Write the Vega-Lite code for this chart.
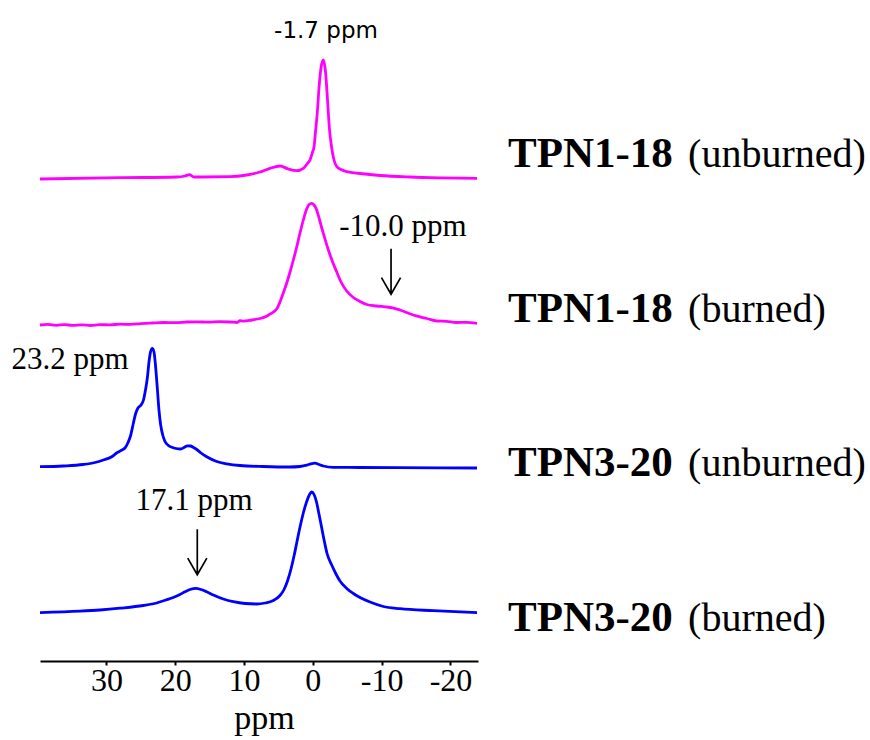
{
  "$schema": "https://vega.github.io/schema/vega-lite/v6.json",
  "width": 438,
  "height": 620,
  "autosize": {"type": "none"},
  "padding": {"left": 40, "top": 41, "right": 392, "bottom": 79},
  "background": "white",
  "config": {"view": {"stroke": null}},
  "datasets": {
    "spectra": [
      {"series": "TPN1-18 unburned", "ppm": 39.66, "y": 4.82},
      {"series": "TPN1-18 unburned", "ppm": 28.03, "y": 4.833},
      {"series": "TPN1-18 unburned", "ppm": 19.79, "y": 4.84},
      {"series": "TPN1-18 unburned", "ppm": 18.58, "y": 4.85},
      {"series": "TPN1-18 unburned", "ppm": 17.96, "y": 4.863},
      {"series": "TPN1-18 unburned", "ppm": 17.28, "y": 4.84},
      {"series": "TPN1-18 unburned", "ppm": 12.04, "y": 4.843},
      {"series": "TPN1-18 unburned", "ppm": 9.62, "y": 4.86},
      {"series": "TPN1-18 unburned", "ppm": 7.68, "y": 4.89},
      {"series": "TPN1-18 unburned", "ppm": 6.23, "y": 4.927},
      {"series": "TPN1-18 unburned", "ppm": 4.78, "y": 4.95},
      {"series": "TPN1-18 unburned", "ppm": 3.57, "y": 4.92},
      {"series": "TPN1-18 unburned", "ppm": 2.35, "y": 4.903},
      {"series": "TPN1-18 unburned", "ppm": 1.39, "y": 4.927},
      {"series": "TPN1-18 unburned", "ppm": 0.85, "y": 4.97},
      {"series": "TPN1-18 unburned", "ppm": 0.42, "y": 5.01},
      {"series": "TPN1-18 unburned", "ppm": 0.05, "y": 5.09},
      {"series": "TPN1-18 unburned", "ppm": -0.17, "y": 5.143},
      {"series": "TPN1-18 unburned", "ppm": -0.38, "y": 5.29},
      {"series": "TPN1-18 unburned", "ppm": -0.65, "y": 5.49},
      {"series": "TPN1-18 unburned", "ppm": -0.89, "y": 5.73},
      {"series": "TPN1-18 unburned", "ppm": -1.18, "y": 5.93},
      {"series": "TPN1-18 unburned", "ppm": -1.52, "y": 6.01},
      {"series": "TPN1-18 unburned", "ppm": -1.84, "y": 5.89},
      {"series": "TPN1-18 unburned", "ppm": -2.13, "y": 5.61},
      {"series": "TPN1-18 unburned", "ppm": -2.42, "y": 5.31},
      {"series": "TPN1-18 unburned", "ppm": -2.74, "y": 5.13},
      {"series": "TPN1-18 unburned", "ppm": -3.07, "y": 5.01},
      {"series": "TPN1-18 unburned", "ppm": -3.46, "y": 4.945},
      {"series": "TPN1-18 unburned", "ppm": -4.09, "y": 4.915},
      {"series": "TPN1-18 unburned", "ppm": -4.92, "y": 4.893},
      {"series": "TPN1-18 unburned", "ppm": -6.85, "y": 4.875},
      {"series": "TPN1-18 unburned", "ppm": -9.76, "y": 4.855},
      {"series": "TPN1-18 unburned", "ppm": -14.12, "y": 4.84},
      {"series": "TPN1-18 unburned", "ppm": -18.48, "y": 4.832},
      {"series": "TPN1-18 unburned", "ppm": -23.86, "y": 4.827},

      {"series": "TPN1-18 burned", "ppm": 39.66, "y": 3.36},
      {"series": "TPN1-18 burned", "ppm": 38.5, "y": 3.366},
      {"series": "TPN1-18 burned", "ppm": 37.3, "y": 3.357},
      {"series": "TPN1-18 burned", "ppm": 36.1, "y": 3.364},
      {"series": "TPN1-18 burned", "ppm": 34.9, "y": 3.356},
      {"series": "TPN1-18 burned", "ppm": 33.6, "y": 3.362},
      {"series": "TPN1-18 burned", "ppm": 32.3, "y": 3.355},
      {"series": "TPN1-18 burned", "ppm": 31.0, "y": 3.363},
      {"series": "TPN1-18 burned", "ppm": 29.5, "y": 3.362},
      {"series": "TPN1-18 burned", "ppm": 28.0, "y": 3.368},
      {"series": "TPN1-18 burned", "ppm": 26.6, "y": 3.366},
      {"series": "TPN1-18 burned", "ppm": 25.0, "y": 3.374},
      {"series": "TPN1-18 burned", "ppm": 23.4, "y": 3.38},
      {"series": "TPN1-18 burned", "ppm": 21.7, "y": 3.385},
      {"series": "TPN1-18 burned", "ppm": 20.0, "y": 3.384},
      {"series": "TPN1-18 burned", "ppm": 18.3, "y": 3.39},
      {"series": "TPN1-18 burned", "ppm": 16.9, "y": 3.392},
      {"series": "TPN1-18 burned", "ppm": 15.2, "y": 3.388},
      {"series": "TPN1-18 burned", "ppm": 13.6, "y": 3.393},
      {"series": "TPN1-18 burned", "ppm": 12.0, "y": 3.39},
      {"series": "TPN1-18 burned", "ppm": 11.0, "y": 3.385},
      {"series": "TPN1-18 burned", "ppm": 10.6, "y": 3.403},
      {"series": "TPN1-18 burned", "ppm": 10.1, "y": 3.398},
      {"series": "TPN1-18 burned", "ppm": 8.85, "y": 3.41},
      {"series": "TPN1-18 burned", "ppm": 7.68, "y": 3.425},
      {"series": "TPN1-18 burned", "ppm": 6.81, "y": 3.445},
      {"series": "TPN1-18 burned", "ppm": 6.23, "y": 3.47},
      {"series": "TPN1-18 burned", "ppm": 5.26, "y": 3.52},
      {"series": "TPN1-18 burned", "ppm": 4.78, "y": 3.59},
      {"series": "TPN1-18 burned", "ppm": 4.3, "y": 3.68},
      {"series": "TPN1-18 burned", "ppm": 3.8, "y": 3.78},
      {"series": "TPN1-18 burned", "ppm": 3.32, "y": 3.89},
      {"series": "TPN1-18 burned", "ppm": 2.84, "y": 4.01},
      {"series": "TPN1-18 burned", "ppm": 2.35, "y": 4.14},
      {"series": "TPN1-18 burned", "ppm": 1.87, "y": 4.28},
      {"series": "TPN1-18 burned", "ppm": 1.39, "y": 4.41},
      {"series": "TPN1-18 burned", "ppm": 0.9, "y": 4.52},
      {"series": "TPN1-18 burned", "ppm": 0.56, "y": 4.565},
      {"series": "TPN1-18 burned", "ppm": 0.17, "y": 4.577},
      {"series": "TPN1-18 burned", "ppm": -0.17, "y": 4.56},
      {"series": "TPN1-18 burned", "ppm": -0.46, "y": 4.527},
      {"series": "TPN1-18 burned", "ppm": -1.29, "y": 4.33},
      {"series": "TPN1-18 burned", "ppm": -2.25, "y": 4.11},
      {"series": "TPN1-18 burned", "ppm": -2.93, "y": 3.98},
      {"series": "TPN1-18 burned", "ppm": -3.47, "y": 3.89},
      {"series": "TPN1-18 burned", "ppm": -4.09, "y": 3.79},
      {"series": "TPN1-18 burned", "ppm": -4.92, "y": 3.7},
      {"series": "TPN1-18 burned", "ppm": -5.88, "y": 3.635},
      {"series": "TPN1-18 burned", "ppm": -6.85, "y": 3.595},
      {"series": "TPN1-18 burned", "ppm": -7.83, "y": 3.565},
      {"series": "TPN1-18 burned", "ppm": -9.28, "y": 3.55},
      {"series": "TPN1-18 burned", "ppm": -10.5, "y": 3.542},
      {"series": "TPN1-18 burned", "ppm": -11.6, "y": 3.532},
      {"series": "TPN1-18 burned", "ppm": -12.67, "y": 3.51},
      {"series": "TPN1-18 burned", "ppm": -14.6, "y": 3.46},
      {"series": "TPN1-18 burned", "ppm": -16.55, "y": 3.425},
      {"series": "TPN1-18 burned", "ppm": -18.0, "y": 3.4},
      {"series": "TPN1-18 burned", "ppm": -19.45, "y": 3.397},
      {"series": "TPN1-18 burned", "ppm": -20.8, "y": 3.385},
      {"series": "TPN1-18 burned", "ppm": -22.3, "y": 3.386},
      {"series": "TPN1-18 burned", "ppm": -23.86, "y": 3.377},

      {"series": "TPN3-20 unburned", "ppm": 39.66, "y": 1.943},
      {"series": "TPN3-20 unburned", "ppm": 36.27, "y": 1.95},
      {"series": "TPN3-20 unburned", "ppm": 33.37, "y": 1.965},
      {"series": "TPN3-20 unburned", "ppm": 31.67, "y": 1.985},
      {"series": "TPN3-20 unburned", "ppm": 30.46, "y": 2.01},
      {"series": "TPN3-20 unburned", "ppm": 29.24, "y": 2.043},
      {"series": "TPN3-20 unburned", "ppm": 28.42, "y": 2.085},
      {"series": "TPN3-20 unburned", "ppm": 27.74, "y": 2.11},
      {"series": "TPN3-20 unburned", "ppm": 27.31, "y": 2.13},
      {"series": "TPN3-20 unburned", "ppm": 26.83, "y": 2.19},
      {"series": "TPN3-20 unburned", "ppm": 26.51, "y": 2.25},
      {"series": "TPN3-20 unburned", "ppm": 26.1, "y": 2.375},
      {"series": "TPN3-20 unburned", "ppm": 25.78, "y": 2.47},
      {"series": "TPN3-20 unburned", "ppm": 25.42, "y": 2.53},
      {"series": "TPN3-20 unburned", "ppm": 24.98, "y": 2.56},
      {"series": "TPN3-20 unburned", "ppm": 24.62, "y": 2.61},
      {"series": "TPN3-20 unburned", "ppm": 24.33, "y": 2.71},
      {"series": "TPN3-20 unburned", "ppm": 24.06, "y": 2.83},
      {"series": "TPN3-20 unburned", "ppm": 23.82, "y": 2.99},
      {"series": "TPN3-20 unburned", "ppm": 23.6, "y": 3.09},
      {"series": "TPN3-20 unburned", "ppm": 23.34, "y": 3.127},
      {"series": "TPN3-20 unburned", "ppm": 23.09, "y": 3.09},
      {"series": "TPN3-20 unburned", "ppm": 22.88, "y": 2.96},
      {"series": "TPN3-20 unburned", "ppm": 22.61, "y": 2.73},
      {"series": "TPN3-20 unburned", "ppm": 22.37, "y": 2.51},
      {"series": "TPN3-20 unburned", "ppm": 22.12, "y": 2.36},
      {"series": "TPN3-20 unburned", "ppm": 21.78, "y": 2.25},
      {"series": "TPN3-20 unburned", "ppm": 21.49, "y": 2.195},
      {"series": "TPN3-20 unburned", "ppm": 20.99, "y": 2.155},
      {"series": "TPN3-20 unburned", "ppm": 20.47, "y": 2.137},
      {"series": "TPN3-20 unburned", "ppm": 19.89, "y": 2.125},
      {"series": "TPN3-20 unburned", "ppm": 19.21, "y": 2.12},
      {"series": "TPN3-20 unburned", "ppm": 18.73, "y": 2.135},
      {"series": "TPN3-20 unburned", "ppm": 18.22, "y": 2.152},
      {"series": "TPN3-20 unburned", "ppm": 17.78, "y": 2.15},
      {"series": "TPN3-20 unburned", "ppm": 17.35, "y": 2.135},
      {"series": "TPN3-20 unburned", "ppm": 16.88, "y": 2.115},
      {"series": "TPN3-20 unburned", "ppm": 16.26, "y": 2.08},
      {"series": "TPN3-20 unburned", "ppm": 15.43, "y": 2.042},
      {"series": "TPN3-20 unburned", "ppm": 13.98, "y": 1.995},
      {"series": "TPN3-20 unburned", "ppm": 12.52, "y": 1.972},
      {"series": "TPN3-20 unburned", "ppm": 10.59, "y": 1.955},
      {"series": "TPN3-20 unburned", "ppm": 7.2, "y": 1.945},
      {"series": "TPN3-20 unburned", "ppm": 3.32, "y": 1.94},
      {"series": "TPN3-20 unburned", "ppm": 1.87, "y": 1.945},
      {"series": "TPN3-20 unburned", "ppm": 0.9, "y": 1.958},
      {"series": "TPN3-20 unburned", "ppm": 0.28, "y": 1.972},
      {"series": "TPN3-20 unburned", "ppm": -0.31, "y": 1.978},
      {"series": "TPN3-20 unburned", "ppm": -0.89, "y": 1.965},
      {"series": "TPN3-20 unburned", "ppm": -1.52, "y": 1.95},
      {"series": "TPN3-20 unburned", "ppm": -2.97, "y": 1.937},
      {"series": "TPN3-20 unburned", "ppm": -6.85, "y": 1.935},
      {"series": "TPN3-20 unburned", "ppm": -12.18, "y": 1.933},
      {"series": "TPN3-20 unburned", "ppm": -18.48, "y": 1.932},
      {"series": "TPN3-20 unburned", "ppm": -23.86, "y": 1.93},

      {"series": "TPN3-20 burned", "ppm": 39.66, "y": 0.483},
      {"series": "TPN3-20 burned", "ppm": 33.85, "y": 0.498},
      {"series": "TPN3-20 burned", "ppm": 30.94, "y": 0.51},
      {"series": "TPN3-20 burned", "ppm": 28.03, "y": 0.528},
      {"series": "TPN3-20 burned", "ppm": 24.65, "y": 0.555},
      {"series": "TPN3-20 burned", "ppm": 22.7, "y": 0.58},
      {"series": "TPN3-20 burned", "ppm": 21.35, "y": 0.61},
      {"series": "TPN3-20 burned", "ppm": 20.29, "y": 0.635},
      {"series": "TPN3-20 burned", "ppm": 19.31, "y": 0.665},
      {"series": "TPN3-20 burned", "ppm": 18.59, "y": 0.692},
      {"series": "TPN3-20 burned", "ppm": 17.86, "y": 0.715},
      {"series": "TPN3-20 burned", "ppm": 16.99, "y": 0.727},
      {"series": "TPN3-20 burned", "ppm": 16.26, "y": 0.715},
      {"series": "TPN3-20 burned", "ppm": 15.43, "y": 0.692},
      {"series": "TPN3-20 burned", "ppm": 14.47, "y": 0.66},
      {"series": "TPN3-20 burned", "ppm": 13.02, "y": 0.62},
      {"series": "TPN3-20 burned", "ppm": 11.56, "y": 0.593},
      {"series": "TPN3-20 burned", "ppm": 9.86, "y": 0.575},
      {"series": "TPN3-20 burned", "ppm": 8.16, "y": 0.57},
      {"series": "TPN3-20 burned", "ppm": 6.96, "y": 0.58},
      {"series": "TPN3-20 burned", "ppm": 5.75, "y": 0.605},
      {"series": "TPN3-20 burned", "ppm": 4.78, "y": 0.655},
      {"series": "TPN3-20 burned", "ppm": 4.19, "y": 0.715},
      {"series": "TPN3-20 burned", "ppm": 3.69, "y": 0.8},
      {"series": "TPN3-20 burned", "ppm": 3.18, "y": 0.92},
      {"series": "TPN3-20 burned", "ppm": 2.74, "y": 1.05},
      {"series": "TPN3-20 burned", "ppm": 2.35, "y": 1.18},
      {"series": "TPN3-20 burned", "ppm": 1.87, "y": 1.34},
      {"series": "TPN3-20 burned", "ppm": 1.39, "y": 1.48},
      {"series": "TPN3-20 burned", "ppm": 0.92, "y": 1.59},
      {"series": "TPN3-20 burned", "ppm": 0.52, "y": 1.66},
      {"series": "TPN3-20 burned", "ppm": 0.17, "y": 1.69},
      {"series": "TPN3-20 burned", "ppm": -0.17, "y": 1.665},
      {"series": "TPN3-20 burned", "ppm": -0.53, "y": 1.59},
      {"series": "TPN3-20 burned", "ppm": -0.86, "y": 1.48},
      {"series": "TPN3-20 burned", "ppm": -1.26, "y": 1.34},
      {"series": "TPN3-20 burned", "ppm": -1.69, "y": 1.19},
      {"series": "TPN3-20 burned", "ppm": -2.06, "y": 1.075},
      {"series": "TPN3-20 burned", "ppm": -2.74, "y": 0.96},
      {"series": "TPN3-20 burned", "ppm": -3.36, "y": 0.87},
      {"series": "TPN3-20 burned", "ppm": -3.94, "y": 0.8},
      {"series": "TPN3-20 burned", "ppm": -4.92, "y": 0.725},
      {"series": "TPN3-20 burned", "ppm": -5.88, "y": 0.675},
      {"series": "TPN3-20 burned", "ppm": -6.85, "y": 0.635},
      {"series": "TPN3-20 burned", "ppm": -8.31, "y": 0.59},
      {"series": "TPN3-20 burned", "ppm": -10.24, "y": 0.545},
      {"series": "TPN3-20 burned", "ppm": -12.67, "y": 0.523},
      {"series": "TPN3-20 burned", "ppm": -17.5, "y": 0.503},
      {"series": "TPN3-20 burned", "ppm": -23.86, "y": 0.483}
    ],
    "labels": [
      {"sample": "TPN1-18", "condition": "(unburned)", "y": 4.94},
      {"sample": "TPN1-18", "condition": "(burned)", "y": 3.393},
      {"sample": "TPN3-20", "condition": "(unburned)", "y": 1.847},
      {"sample": "TPN3-20", "condition": "(burned)", "y": 0.3}
    ],
    "peaks": [
      {"text": "-10.0 ppm", "ppm": -13.1, "y": 4.25},
      {"text": "23.2 ppm", "ppm": 35.3, "y": 2.92},
      {"text": "17.1 ppm", "ppm": 17.28, "y": 1.51}
    ],
    "topPeak": [
      {"text": "-1.7 ppm", "ppm": -1.91, "y": 6.233}
    ],
    "arrows": [
      {"ppm": -11.36, "y": 3.895},
      {"ppm": 16.8, "y": 1.09}
    ]
  },
  "layer": [
    {
      "data": {"name": "spectra"},
      "mark": {"type": "line", "strokeWidth": 2.8, "interpolate": "monotone"},
      "encoding": {
        "x": {
          "field": "ppm", "type": "quantitative",
          "scale": {"domain": [-24, 39.66], "reverse": true, "nice": false, "zero": false},
          "axis": {
            "title": "ppm",
            "values": [35, 30, 25, 20, 15, 10, 5, 0, -5, -10, -15, -20],
            "labelExpr": "datum.value % 10 == 0 ? '' + datum.value : ''",
            "grid": false,
            "domainColor": "black", "domainWidth": 2,
            "tickColor": "black", "tickWidth": 2, "tickSize": 4,
            "labelFont": "Liberation Serif", "labelFontSize": 32, "labelColor": "black",
            "labelPadding": 0, "labelFlush": false, "labelOverlap": false,
            "titleFont": "Liberation Serif", "titleFontSize": 34, "titleFontWeight": "normal",
            "titleColor": "black", "titlePadding": 5, "titleX": 224
          }
        },
        "y": {
          "field": "y", "type": "quantitative",
          "scale": {"domain": [0, 6.2], "nice": false, "zero": false},
          "axis": null
        },
        "color": {
          "field": "series", "type": "nominal",
          "scale": {
            "domain": ["TPN1-18 unburned", "TPN1-18 burned", "TPN3-20 unburned", "TPN3-20 burned"],
            "range": ["#FF00FF", "#FF00FF", "#0000FF", "#0000FF"]
          },
          "legend": null
        }
      }
    },
    {
      "mark": {"type": "rule", "color": "#777777", "strokeWidth": 1.5, "strokeDash": [2, 2]},
      "encoding": {
        "x": {"datum": 0},
        "y": {"datum": 0},
        "y2": {"datum": 5.92}
      }
    },
    {
      "data": {"name": "peaks"},
      "mark": {"type": "text", "font": "Liberation Serif", "fontSize": 31, "align": "center", "baseline": "alphabetic", "color": "black"},
      "encoding": {
        "x": {"field": "ppm", "type": "quantitative"},
        "y": {"field": "y", "type": "quantitative"},
        "text": {"field": "text"}
      }
    },
    {
      "data": {"name": "topPeak"},
      "mark": {"type": "text", "font": "DejaVu Sans", "fontSize": 23, "align": "center", "baseline": "alphabetic", "color": "black"},
      "encoding": {
        "x": {"field": "ppm", "type": "quantitative"},
        "y": {"field": "y", "type": "quantitative"},
        "text": {"field": "text"}
      }
    },
    {
      "data": {"name": "arrows"},
      "mark": {"type": "point", "shape": "M0,-1L0,1M-0.42,0.27L0,1L0.42,0.27", "filled": false, "stroke": "black", "strokeWidth": 1.7, "size": 2070, "opacity": 1},
      "encoding": {
        "x": {"field": "ppm", "type": "quantitative"},
        "y": {"field": "y", "type": "quantitative"}
      }
    },
    {
      "data": {"name": "labels"},
      "mark": {"type": "text", "font": "Liberation Serif", "fontSize": 43, "fontWeight": "bold", "align": "left", "baseline": "alphabetic", "color": "black"},
      "encoding": {
        "x": {"datum": -28.36},
        "y": {"field": "y", "type": "quantitative"},
        "text": {"field": "sample"}
      }
    },
    {
      "data": {"name": "labels"},
      "mark": {"type": "text", "font": "Liberation Serif", "fontSize": 40, "align": "left", "baseline": "alphabetic", "color": "black"},
      "encoding": {
        "x": {"datum": -54.53},
        "y": {"field": "y", "type": "quantitative"},
        "text": {"field": "condition"}
      }
    }
  ]
}
